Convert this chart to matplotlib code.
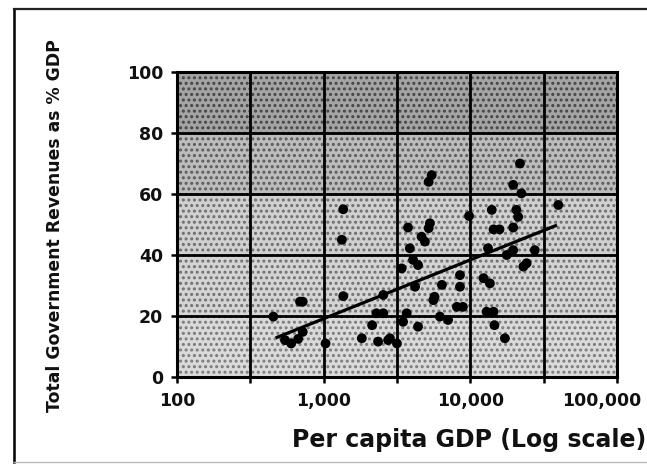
import matplotlib
matplotlib.use("Agg")
import matplotlib.pyplot as plt
import matplotlib.transforms as mtransforms
from matplotlib.patches import Rectangle
from matplotlib.lines import Line2D

# Per capita GDP (US$) and total government revenues (% of GDP) by country
gdp = [454, 545, 600, 670, 720, 690, 720, 1030,
       1360, 1330, 1360, 1820, 2140, 2350, 2290, 2830, 2550, 2550, 2750, 3160,
       3400, 3480, 3680, 3760, 3870, 4070, 4400, 4200, 4400, 4650, 4900, 5300,
       5200, 5450, 5200, 5700, 5600, 6200, 7050, 6400, 8500, 8500, 8100, 8900,
       9800,
       12300, 13600, 13200, 12900, 14400, 14600, 17200, 14000, 14400, 15800,
       17700, 19600, 19600, 20600, 21200, 19600, 22300, 21800, 24200, 23000,
       27500, 39800]
revenue = [19.8, 12.1, 11.0, 12.5, 14.8, 24.7, 24.7, 11.0,
           55.0, 45.0, 26.5, 12.7, 17.0, 11.6, 20.9, 12.7, 26.9, 20.9, 12.1, 11.0,
           35.6, 18.1, 20.9, 49.0, 42.2, 38.4, 36.7, 29.6, 16.5, 46.0, 44.4, 50.4,
           48.8, 66.2, 64.0, 26.3, 25.2, 19.8, 18.7, 30.2, 33.4, 29.6, 23.0, 23.0,
           52.8,
           32.4, 30.7, 42.2, 21.4, 21.4, 17.0, 12.7, 54.8, 48.4, 48.4,
           40.0, 41.6, 49.0, 54.8, 52.5, 63.0, 60.2, 70.0, 37.3, 36.2,
           41.6, 56.4]

# Fitted trend line (revenue vs log GDP), end points
fit_gdp = [470, 39000]
fit_revenue = [12.8, 49.8]

x_ticks = [100, 1000, 10000, 100000]
x_tick_labels = ["100", "1,000", "10,000", "100,000"]
x_grid = [100, 316.2, 1000, 3162, 10000, 31623, 100000]
y_ticks = [0, 20, 40, 60, 80, 100]

W, H = 647, 466
fig = plt.figure(figsize=(W / 100, H / 100), dpi=100)
fig.patch.set_facecolor("white")

ax = fig.add_axes([177 / W, 1 - 377 / H, 440 / W, 305 / H])
ax.set_xscale("log")
ax.set_xlim(100, 100000)
ax.set_ylim(0, 100)

# stippled grey cell backgrounds, darker toward the top
plt.rcParams["hatch.linewidth"] = 1.4
row_shade = {0: "#dadada", 20: "#d4d4d4", 40: "#d0d0d0", 60: "#bcbcbc", 80: "#a4a4a4"}
row_hatch = {0: "#7a7a7a", 20: "#707070", 40: "#6c6c6c", 60: "#5a5a5a", 80: "#444444"}
for y0 in y_ticks[:-1]:
    ax.add_patch(Rectangle((100, y0), 100000 - 100, 20, facecolor=row_shade[y0],
                           edgecolor=row_hatch[y0], hatch="...", linewidth=0, zorder=0))

for xv in x_grid[1:-1]:
    ax.axvline(xv, color="black", linewidth=2.0, zorder=1)
for yv in y_ticks[1:-1]:
    ax.axhline(yv, color="black", linewidth=2.0, zorder=1)

ax.scatter(gdp, revenue, s=50, color="black", edgecolors="none", zorder=3)
ax.plot(fit_gdp, fit_revenue, color="black", linewidth=2.3, zorder=4,
        solid_capstyle="butt")

for s in ax.spines.values():
    s.set_linewidth(2.2)
    s.set_color("black")

ax.set_xticks(x_grid)
ax.set_xticklabels([x_tick_labels[x_ticks.index(v)] if v in x_ticks else "" for v in x_grid])
ax.xaxis.set_minor_locator(matplotlib.ticker.NullLocator())
ax.set_yticks(y_ticks)
ax.tick_params(axis="both", direction="out", length=4, width=1.8, color="black")
ax.tick_params(axis="x", pad=7)
ax.tick_params(axis="y", pad=6)
for lab in ax.get_xticklabels() + ax.get_yticklabels():
    lab.set_fontfamily("DejaVu Sans")
    lab.set_fontweight("bold")
    lab.set_fontsize(12.5)
    lab.set_color("#111111")

# keep the last x label inside the page
last = ax.get_xticklabels()[-1]
last.set_transform(last.get_transform() +
                   mtransforms.ScaledTranslation(-0.15, 0, fig.dpi_scale_trans))

fig.text(646 / W, 1 - 440 / H, "Per capita GDP (Log scale)", ha="right", va="center",
         fontsize=17, fontweight="bold", family="DejaVu Sans", color="#111111")
fig.text(55 / W, 1 - 226 / H, "Total Government Revenues as % GDP", ha="center",
         va="center", rotation=90, fontsize=12.4, fontweight="bold",
         family="DejaVu Sans", color="#111111")

# page frame
fig.add_artist(Line2D([14 / W, 14 / W], [1 - 9 / H, 1 - 462 / H], color="black",
                      linewidth=1.8, transform=fig.transFigure))
fig.add_artist(Line2D([14 / W, 1.0], [1 - 9 / H, 1 - 9 / H], color="#222222",
                      linewidth=1.6, transform=fig.transFigure))
fig.add_artist(Line2D([14 / W, 1.0], [1 - 462 / H, 1 - 462 / H], color="#bbbbbb",
                      linewidth=1.0, transform=fig.transFigure))

fig.savefig("out.png", dpi=100)
